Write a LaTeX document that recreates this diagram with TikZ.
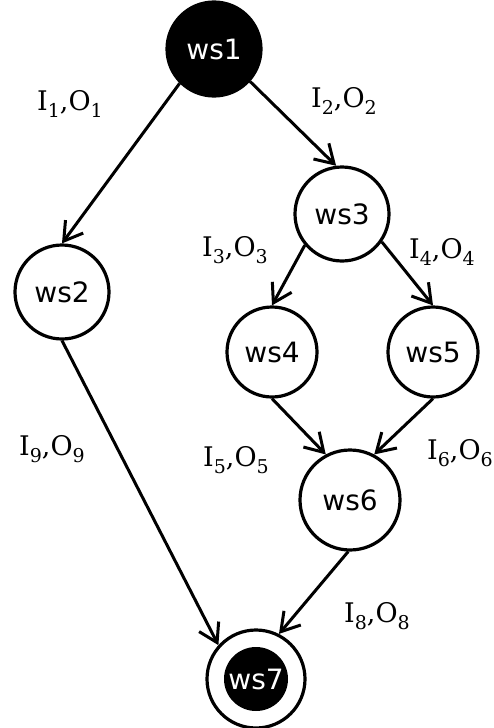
\documentclass[tikz,border=0pt]{standalone}
\usepackage{fontspec}
\setmainfont{DejaVu Serif}
\newfontfamily\nodefont{DejaVu Sans}
\usetikzlibrary{arrows.meta}
\newcommand\lsub[1]{\raisebox{-7pt}{\fontsize{19}{19}\selectfont #1}}
\newcommand\io[1]{I\lsub{#1},O\lsub{#1}}
\begin{document}
\begin{tikzpicture}[x=1pt,y=-1pt,
  ws/.style={circle,draw=black,line width=3.2pt,minimum size=94pt,inner sep=0pt,font=\nodefont\fontsize{28}{28}\selectfont},
  wsfill/.style={ws,fill=black,text=white},
  conn/.style={line width=3pt,-{Straight Barb[length=18pt,width=22pt,line width=3pt]}},
  lab/.style={font=\fontsize{27}{27}\selectfont,inner sep=0pt}]
\useasboundingbox (0,0) rectangle (493,728);
\node[wsfill] (ws1) at (214,49) {ws1};
\node[ws] (ws2) at (62,292) {ws2};
\node[ws] (ws3) at (342,214) {ws3};
\node[ws,minimum size=90pt] (ws4) at (272,352) {ws4};
\node[ws,minimum size=90pt] (ws5) at (433,352) {ws5};
\node[ws,minimum size=100pt] (ws6) at (350,500) {ws6};
\node[ws,minimum size=98pt] (ws7) at (256,679) {};
\node[circle,fill=black,minimum size=64pt,inner sep=0pt,text=white,font=\nodefont\fontsize{28}{28}\selectfont] (ws7in) at (ws7.center) {ws7};
\draw[conn] (ws1.225) -- (ws2.north);
\draw[conn] (ws1.318) -- (ws3.97);
\draw[conn] (ws3.220) -- (ws4.north);
\draw[conn] (ws3.325) -- (ws5.north);
\draw[conn] (ws4.south) -- (ws6.118);
\draw[conn] (ws5.south) -- (ws6.62);
\draw[conn] (ws2.south) -- (ws7.138);
\draw[conn] (ws6.268) -- (ws7.63);
\node[lab] (l1) at (70,104) {\io{1}};
\node[lab] (l2) at (344,101) {\io{2}};
\node[lab] (l3) at (235,250) {\io{3}};
\node[lab] (l4) at (442,252) {\io{4}};
\node[lab] (l9) at (52,449) {\io{9}};
\node[lab] (l5) at (236,460) {\io{5}};
\node[lab] (l6) at (460,453) {\io{6}};
\node[lab] (l8) at (377,616) {\io{8}};
\end{tikzpicture}
\end{document}
